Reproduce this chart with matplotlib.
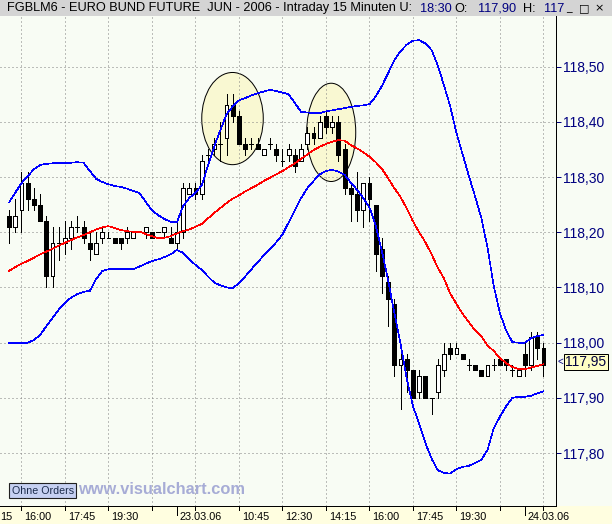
import numpy as np
import matplotlib
matplotlib.use('Agg')
import matplotlib.pyplot as plt
from matplotlib.patches import Ellipse, Rectangle
from matplotlib.transforms import offset_copy
from matplotlib import font_manager

# ---- 15 min bars: 22.03.06 from 15:30, all of 23.03.06, 24.03.06 up to 09:00 ----
open_22 = [118.23, 118.21, 118.24, 118.29, 118.26, 118.25, 118.22, 118.12, 118.18, 118.18,
           118.19, 118.21, 118.21, 118.18, 118.16, 118.19, 118.19, 118.19, 118.19, 118.19,
           118.19, 118.20, 118.20, 118.20, 118.20, 118.20, 118.19]
high_22 = [118.24, 118.26, 118.31, 118.31, 118.28, 118.27, 118.23, 118.21, 118.21, 118.22,
           118.22, 118.23, 118.22, 118.20, 118.20, 118.21, 118.20, 118.19, 118.19, 118.21,
           118.20, 118.20, 118.21, 118.20, 118.20, 118.21, 118.21]
low_22 = [118.18, 118.20, 118.20, 118.24, 118.24, 118.22, 118.10, 118.10, 118.15, 118.16,
          118.17, 118.20, 118.18, 118.15, 118.16, 118.18, 118.19, 118.18, 118.17, 118.18,
          118.19, 118.20, 118.19, 118.19, 118.20, 118.19, 118.18]
close_22 = [118.21, 118.23, 118.29, 118.26, 118.25, 118.22, 118.12, 118.18, 118.18, 118.19,
            118.21, 118.21, 118.19, 118.17, 118.18, 118.20, 118.19, 118.18, 118.18, 118.20,
            118.20, 118.20, 118.21, 118.19, 118.20, 118.21, 118.18]

open_23 = [118.18, 118.20, 118.27, 118.28, 118.27, 118.34, 118.35, 118.36, 118.37, 118.43,
           118.41, 118.36, 118.36, 118.36, 118.34, 118.36, 118.35, 118.33, 118.34, 118.34,
           118.33, 118.36, 118.38, 118.37, 118.41, 118.39, 118.40, 118.35, 118.28, 118.27,
           118.24, 118.29, 118.25, 118.17, 118.11, 118.07, 117.96, 117.97, 117.95, 117.91,
           117.94, 117.90, 117.91, 117.95, 117.99, 117.98, 117.98, 117.96, 117.96, 117.95,
           117.94, 117.96, 117.97, 117.97, 117.95, 117.94]
high_23 = [118.22, 118.29, 118.29, 118.29, 118.34, 118.35, 118.37, 118.40, 118.45, 118.45,
           118.42, 118.37, 118.37, 118.37, 118.35, 118.37, 118.36, 118.35, 118.36, 118.35,
           118.36, 118.39, 118.39, 118.41, 118.42, 118.41, 118.41, 118.36, 118.29, 118.31,
           118.29, 118.30, 118.25, 118.19, 118.12, 118.08, 117.98, 117.98, 117.95, 117.95,
           117.94, 117.90, 117.97, 118.00, 118.00, 118.00, 117.98, 117.97, 117.96, 117.95,
           117.96, 117.97, 117.97, 117.97, 117.96, 117.95]
low_23 = [118.17, 118.19, 118.27, 118.26, 118.26, 118.33, 118.34, 118.33, 118.34, 118.40,
          118.36, 118.34, 118.35, 118.35, 118.34, 118.35, 118.33, 118.32, 118.33, 118.31,
          118.33, 118.35, 118.36, 118.37, 118.38, 118.38, 118.33, 118.27, 118.22, 118.22,
          118.21, 118.22, 118.13, 118.09, 118.03, 117.94, 117.88, 117.91, 117.90, 117.90,
          117.90, 117.87, 117.90, 117.94, 117.97, 117.98, 117.97, 117.95, 117.95, 117.94,
          117.94, 117.95, 117.96, 117.95, 117.94, 117.94]
close_23 = [118.20, 118.28, 118.28, 118.27, 118.33, 118.34, 118.36, 118.36, 118.43, 118.41,
            118.36, 118.35, 118.36, 118.35, 118.35, 118.36, 118.34, 118.33, 118.35, 118.32,
            118.35, 118.38, 118.37, 118.40, 118.39, 118.40, 118.34, 118.28, 118.27, 118.24,
            118.29, 118.26, 118.16, 118.12, 118.08, 117.96, 117.97, 117.95, 117.90, 117.94,
            117.90, 117.90, 117.96, 117.98, 117.98, 117.99, 117.97, 117.96, 117.95, 117.94,
            117.96, 117.96, 117.96, 117.96, 117.95, 117.95]

open_24 = [117.98, 117.96, 118.01, 117.99]
high_24 = [118.00, 118.02, 118.02, 118.00]
low_24 = [117.94, 117.95, 117.97, 117.94]
close_24 = [117.96, 118.01, 117.99, 117.96]

# moving average (red) and bollinger bands (blue), one value per bar
ma_line = [118.130, 118.137, 118.143, 118.148, 118.154, 118.160, 118.165, 118.170, 118.176, 118.181,
           118.186, 118.191, 118.195, 118.200, 118.205, 118.209, 118.211, 118.208, 118.204, 118.202,
           118.201, 118.201, 118.197, 118.193, 118.189, 118.190, 118.193, 118.198, 118.202, 118.205,
           118.210, 118.215, 118.225, 118.235, 118.244, 118.253, 118.261, 118.267, 118.274, 118.280,
           118.286, 118.293, 118.299, 118.305, 118.311, 118.318, 118.325, 118.333, 118.341, 118.349,
           118.355, 118.360, 118.364, 118.367, 118.366, 118.358, 118.352, 118.345, 118.337, 118.327,
           118.315, 118.298, 118.280, 118.264, 118.243, 118.220, 118.200, 118.182, 118.160, 118.136,
           118.116, 118.089, 118.070, 118.052, 118.037, 118.022, 118.012, 117.995, 117.985, 117.972,
           117.963, 117.956, 117.952, 117.952, 117.955, 117.958, 117.961]
upper_band = [118.254, 118.272, 118.289, 118.302, 118.314, 118.322, 118.324, 118.325, 118.326, 118.326,
              118.326, 118.327, 118.326, 118.311, 118.297, 118.291, 118.287, 118.284, 118.282, 118.279,
              118.275, 118.271, 118.255, 118.240, 118.231, 118.224, 118.219, 118.218, 118.247, 118.262,
              118.272, 118.285, 118.320, 118.355, 118.385, 118.414, 118.428, 118.439, 118.443, 118.448,
              118.452, 118.455, 118.458, 118.456, 118.453, 118.450, 118.434, 118.418, 118.417, 118.416,
              118.416, 118.419, 118.421, 118.423, 118.425, 118.427, 118.429, 118.430, 118.432, 118.446,
              118.465, 118.488, 118.512, 118.528, 118.540, 118.547, 118.548, 118.542, 118.530, 118.502,
              118.466, 118.428, 118.380, 118.341, 118.302, 118.265, 118.226, 118.172, 118.103, 118.053,
              118.022, 118.001, 118.000, 118.000, 118.008, 118.012, 118.014]
lower_band = [118.000, 118.000, 117.999, 118.000, 118.005, 118.014, 118.030, 118.045, 118.060, 118.072,
              118.082, 118.088, 118.092, 118.094, 118.115, 118.130, 118.133, 118.133, 118.133, 118.133,
              118.133, 118.138, 118.143, 118.148, 118.151, 118.155, 118.160, 118.168, 118.163, 118.151,
              118.141, 118.132, 118.120, 118.109, 118.104, 118.100, 118.099, 118.108, 118.120, 118.133,
              118.146, 118.158, 118.170, 118.182, 118.196, 118.218, 118.240, 118.262, 118.280, 118.293,
              118.305, 118.311, 118.313, 118.310, 118.304, 118.290, 118.277, 118.262, 118.245, 118.212,
              118.166, 118.113, 118.054, 117.998, 117.935, 117.885, 117.853, 117.818, 117.790, 117.769,
              117.764, 117.763, 117.771, 117.775, 117.777, 117.782, 117.788, 117.806, 117.845, 117.866,
              117.885, 117.900, 117.902, 117.902, 117.904, 117.908, 117.912]

price_ticks = [117.80, 117.90, 118.00, 118.10, 118.20, 118.30, 118.40, 118.50]
grid_bars = [2, 9, 16, 23, 30, 37, 44, 51, 58, 65, 72, 79, 86]
label_bars = [2, 9, 16, 27, 37, 44, 51, 58, 65, 72, 83]
label_text = ['16:00', '17:45', '19:30', '23.03.06', '10:45', '12:30',
              '14:15', '16:00', '17:45', '19:30', '24.03.06']
date_bars = [27, 83]
last_price = 117.95
# tail of the "14:15" label whose tick lies left of the chart
cut_label = '15'

# circled areas (bar index, price, width in bars, height in price)
circle_x = [35.96, 51.84]
circle_y = [118.406, 118.381]
circle_w = [9.9, 7.9]
circle_h = [0.167, 0.178]

title_parts = ['FGBLM6 - EURO BUND FUTURE  JUN - 2006 - Intraday 15 Minuten U:',
               '18:30', 'O:', '117,90', 'H:', '117']
title_colors = ['black', '#000080', 'black', '#000080', 'black', '#000080']
title_px = [7, 420, 454, 478, 523, 544]

opens = np.array(open_22 + open_23 + open_24)
highs = np.array(high_22 + high_23 + high_24)
lows = np.array(low_22 + low_23 + low_24)
closes = np.array(close_22 + close_23 + close_24)
x = np.arange(len(opens))

plt.rcParams['font.family'] = ['Liberation Sans', 'DejaVu Sans']
names = {f.name for f in font_manager.fontManager.ttflist}
narrow = 'Liberation Sans Narrow' in names

W, H = 612, 524
top, bottom, right = 16, 506, 556
bg = '#f8fcf4'
navy = '#000080'

fig = plt.figure(figsize=(W / 100, H / 100), dpi=100, facecolor=bg)
ax = fig.add_axes([0, (H - bottom) / H, right / W, (bottom - top) / H], facecolor=bg)

# strips around the chart
fig.add_artist(Rectangle((0, 0), 1, (H - bottom) / H, transform=fig.transFigure,
                         fc='#fffee0', ec='none', zorder=-1))
fig.add_artist(Rectangle((0, (H - top) / H), 1, top / H, transform=fig.transFigure,
                         fc='#d4d4d4', ec='none', zorder=-1))

for cx, cy, cw, ch in zip(circle_x, circle_y, circle_w, circle_h):
    ax.add_patch(Ellipse((cx, cy), cw, ch, fc='#f9f8d2', ec='black', lw=0.72, zorder=0.3))

# candles
ax.vlines(x, lows, highs, color='black', lw=0.7, zorder=2, antialiased=False)
up = closes >= opens
body_lo = np.minimum(opens, closes)
body_h = np.abs(closes - opens)
ax.bar(x[up], body_h[up], 0.62, bottom=body_lo[up], color='white', edgecolor='black',
       lw=0.7, zorder=2.1, antialiased=False)
ax.bar(x[~up], body_h[~up], 0.62, bottom=body_lo[~up], color='black', edgecolor='black',
       lw=0.7, zorder=2.1, antialiased=False)

ax.plot(x, upper_band, color='#0000ff', lw=0.45, zorder=3, antialiased=False)
ax.plot(x, lower_band, color='#0000ff', lw=0.45, zorder=3, antialiased=False)
ax.plot(x, ma_line, color='#ff0000', lw=0.45, zorder=3, antialiased=False)

ax.set_xlim(-1.46, 88.02)
ax.set_ylim(117.7042, 118.5918)

ax.set_xticks(grid_bars)
ax.tick_params(axis='x', length=0, labelbottom=False)
ax.yaxis.tick_right()
ax.set_yticks(price_ticks)
ax.set_yticklabels([f'{v:.2f}'.replace('.', ',') for v in price_ticks])
ax.tick_params(axis='y', colors=navy, labelsize=10, length=3.6, width=0.72, pad=1.5)
ax.set_axisbelow(True)
ax.grid(True, color='#808080', linestyle=(0, (1, 3)), lw=0.72)
for s in ['top', 'left']:
    ax.spines[s].set_visible(False)
for s in ['right', 'bottom']:
    ax.spines[s].set_color('black')
    ax.spines[s].set_linewidth(0.72)

# time axis drawn by hand: labels sit right of their tick
xtr = ax.get_xaxis_transform()
lab_tr = offset_copy(xtr, fig, x=3, y=-14, units='dots')
axh = bottom - top
for b in sorted(set(grid_bars + date_bars)):
    ln = 9 if b in date_bars else 4
    ax.plot([b, b], [0, -ln / axh], transform=xtr, color='black', lw=0.72,
            clip_on=False, antialiased=False)
for b, t in zip(label_bars, label_text):
    ax.text(b, 0, t, transform=lab_tr, ha='left', va='baseline', fontsize=7.8,
            color='black', clip_on=False)
fig.text(0.5 / W, 4 / H, cut_label, ha='left', va='baseline', fontsize=7.8, color='black')

# last price marker
ytr = ax.get_yaxis_transform()
ax.text(1.0, last_price, '<', transform=offset_copy(ytr, fig, x=1.5, y=8.3, units='dots'),
        ha='left', va='center', fontsize=7, color=navy, clip_on=False)
ax.text(1.0, last_price, f'{last_price:.2f}'.replace('.', ','),
        transform=offset_copy(ytr, fig, x=9, y=8.3, units='dots'), ha='left', va='center',
        fontsize=10, color='#000040', clip_on=False,
        bbox=dict(boxstyle='square,pad=0.1', fc='#ffffc4', ec='black', lw=0.72))

# window title
tfam = 'Liberation Sans Narrow' if narrow else 'Liberation Sans'
tsize = 9.6 if narrow else 9.2
for s, c, px in zip(title_parts, title_colors, title_px):
    fig.text(px / W, (H - 8.5) / H, s, color=c, family=tfam, fontsize=tsize,
             ha='left', va='center')
for s, px in zip(['_', '\u25a1', '\u00d7'], [569, 584, 599]):
    fig.text(px / W, (H - 8) / H, s, family='DejaVu Sans', fontsize=8, color='black',
             ha='center', va='center')

fig.text(11.5 / W, (H - 490.5) / H, 'Ohne Orders', fontsize=7.7, color='#1c2c4c',
         ha='left', va='center',
         bbox=dict(boxstyle='square,pad=0.22', fc='#c6d0f2', ec='#202020', lw=0.8))
fig.text(78 / W, (H - 489) / H, 'www.visualchart.com', fontsize=11.8, fontweight='bold',
         color='#a7acd6', ha='left', va='center')

fig.savefig('out.png', dpi=100, facecolor=bg)
